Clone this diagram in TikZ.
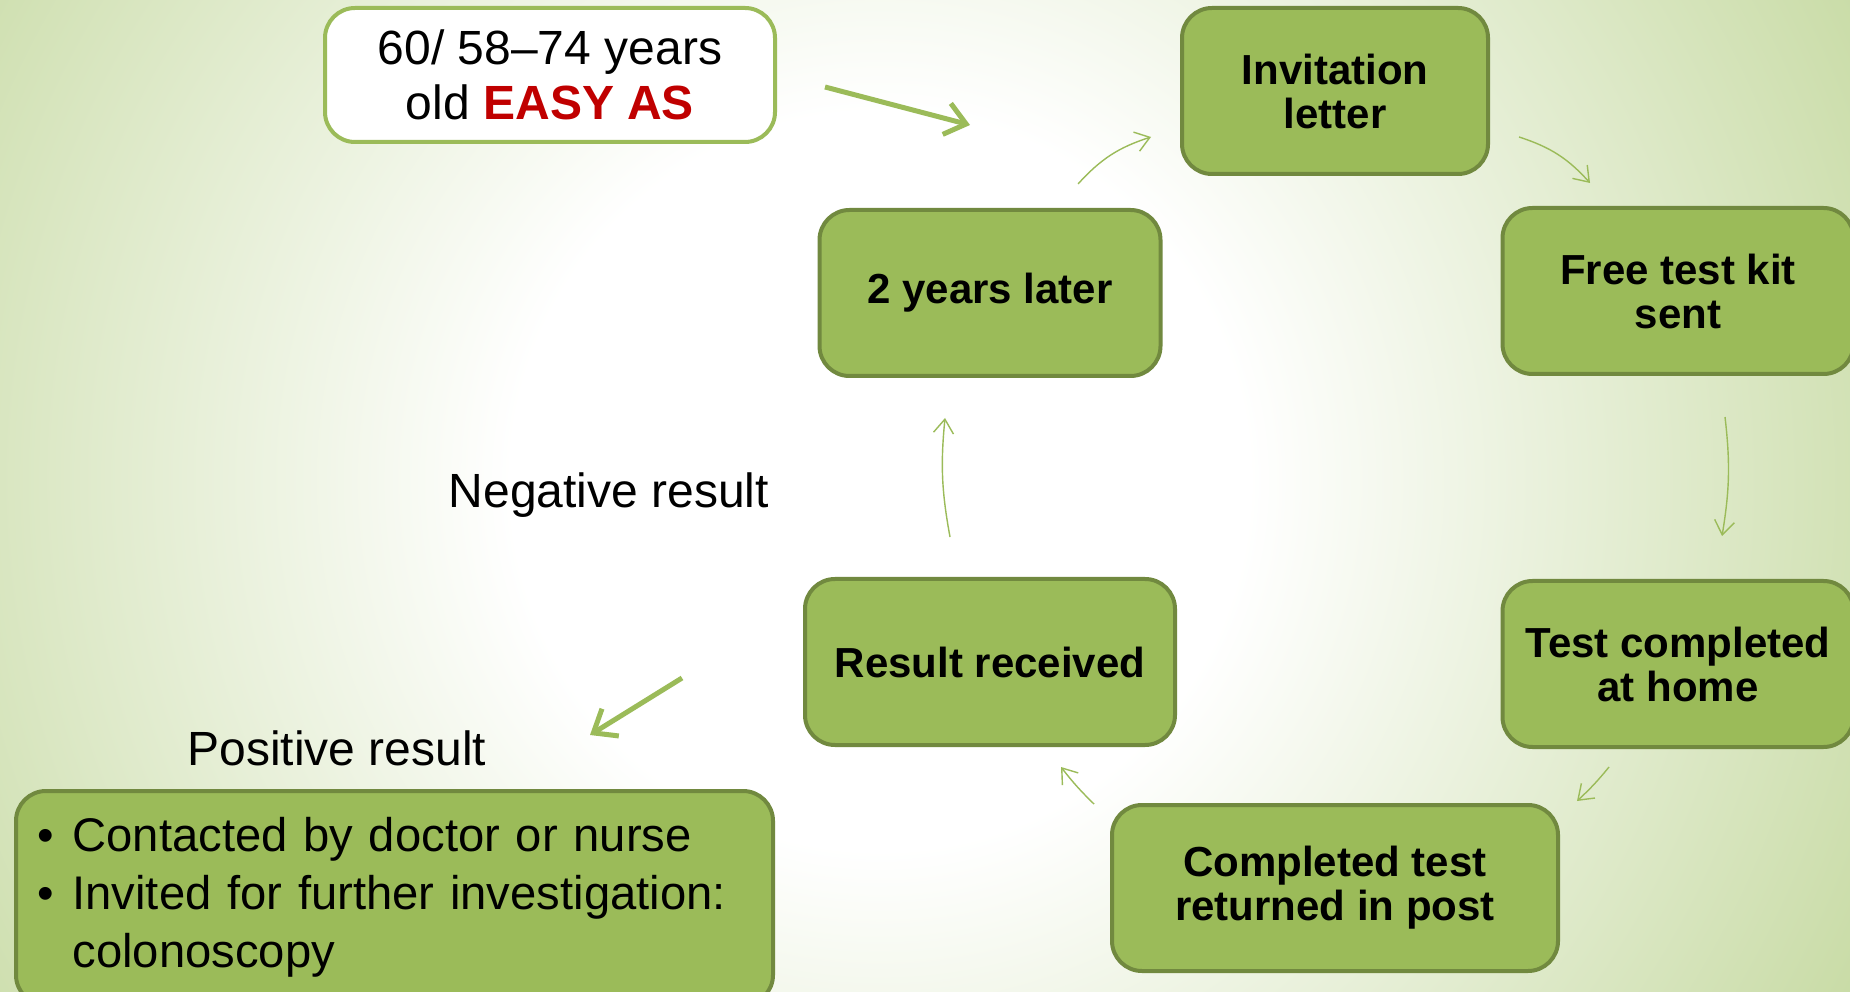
\documentclass[tikz,border=0pt]{standalone}
\usepackage{fontspec}
\setmainfont{Liberation Sans}
\usetikzlibrary{arrows.meta}

\definecolor{boxgreen}{HTML}{9BBB59}
\definecolor{boxline}{HTML}{71893F}
\definecolor{bgedge}{HTML}{C5D9A0}
\definecolor{easyred}{HTML}{C00000}

\pgfdeclareradialshading{slideglow}{\pgfpoint{0bp}{0bp}}{%
  color(0bp)=(white); color(8bp)=(white); color(25bp)=(bgedge); color(50bp)=(bgedge)}

\begin{document}
\begin{tikzpicture}[x=1pt, y=1pt,
    stepbox/.style={draw=boxline, fill=boxgreen, line width=2pt, rounded corners=15pt,
      minimum height=83pt, align=center, inner sep=4pt,
      font=\fontsize{21}{22}\selectfont\bfseries},
    agebox/.style={draw=boxgreen, fill=white, line width=2pt, rounded corners=15pt,
      minimum width=225pt, minimum height=67pt, align=center,
      font=\fontsize{24}{27.5}\selectfont},
    posbox/.style={draw=boxline, fill=boxgreen, line width=2pt, rounded corners=15pt,
      minimum width=378.5pt, minimum height=107pt, text width=357.5pt,
      inner xsep=10.5pt, align=left, font=\fontsize{23.6}{29}\selectfont},
    cyc/.style={draw=boxgreen, line width=0.7pt, -{Straight Barb[length=7pt,width=10pt]}},
    bigarrow/.style={draw=boxgreen, line width=2.5pt, -{Straight Barb[length=10pt,width=16pt]}},
    plain/.style={font=\fontsize{24}{28}\selectfont}]
	% slide background
	\clip (0,0) rectangle (925,495.5);
	\fill[bgedge] (0,0) rectangle (925,495.5);
	\shade[shading=slideglow] (440,255) circle (575pt);

	% the screening cycle
	\node[stepbox, minimum width=153pt] (inv) at (667.5,450) {Invitation\\letter};
	\node[stepbox, minimum width=175.5pt] (free) at (839,350) {Free test kit\\sent};
	\node[stepbox, minimum width=175.5pt] (home) at (839,163.5) {Test completed\\at home};
	\node[stepbox, minimum width=223pt] (post) at (667.5,51.5) {Completed test\\returned in post};
	\node[stepbox, minimum width=185pt] (res) at (495,164.5) {Result received};
	\node[stepbox, minimum width=170.5pt] (two) at (495,349) {2 years later};

	\node[agebox] (age) at (275,458) {60/ 58--74 years\\old {\bfseries\color{easyred}EASY AS}};
	\node[plain] (neg) at (304.5,247.75) {Negative result};
	\node[plain] (posl) at (168.5,121.5) {Positive result};
	\node[posbox] (pos) at (197.25,46.5) {\begin{tabular}{@{}l@{\hspace{9.5pt}}l@{}}
		\textbullet & Contacted by doctor or nurse\\
		\textbullet & Invited for further investigation:\\
		 & colonoscopy
	\end{tabular}};

	% arrow ends
	\coordinate (c1s) at ([shift={(44,12)}]two.north);
	\coordinate (c1e) at ([shift={(-14.5,-23)}]inv.west);
	\coordinate (c2s) at ([shift={(14.5,-23)}]inv.east);
	\coordinate (c2e) at ([shift={(-44,11.5)}]free.north);
	\coordinate (c3s) at ([shift={(23.5,-20.5)}]free.south);
	\coordinate (c3e) at ([shift={(22,21.5)}]home.north);
	\coordinate (c4s) at ([shift={(-34.5,-9)}]home.south);
	\coordinate (c4e) at ([shift={(8.5,1)}]post.north east);
	\coordinate (c5s) at ([shift={(-8,-0.5)}]post.north west);
	\coordinate (c5e) at ([shift={(35.5,-10)}]res.south);
	\coordinate (c6s) at ([shift={(-20,20)}]res.north);
	\coordinate (c6e) at ([shift={(-22.5,-20)}]two.south);
	\coordinate (as) at ([shift={(24,-6)}]age.east);
	\coordinate (ae) at ([shift={(-105,-17)}]inv.west);
	\coordinate (ps) at ([shift={(-60.5,-8)}]res.west);
	\coordinate (pe) at ([shift={(-106.5,-36.5)}]res.west);

	\draw[cyc] (c1s) to[bend left=15] (c1e);
	\draw[cyc] (c2s) to[bend left=15] (c2e);
	\draw[cyc] (c3s) to[bend left=8] (c3e);
	\draw[cyc] (c4s) to[bend left=4] (c4e);
	\draw[cyc] (c5s) to[bend left=4] (c5e);
	\draw[cyc] (c6s) to[bend left=8] (c6e);
	\draw[bigarrow] (as) -- (ae);
	\draw[bigarrow] (ps) -- (pe);
\end{tikzpicture}
\end{document}
